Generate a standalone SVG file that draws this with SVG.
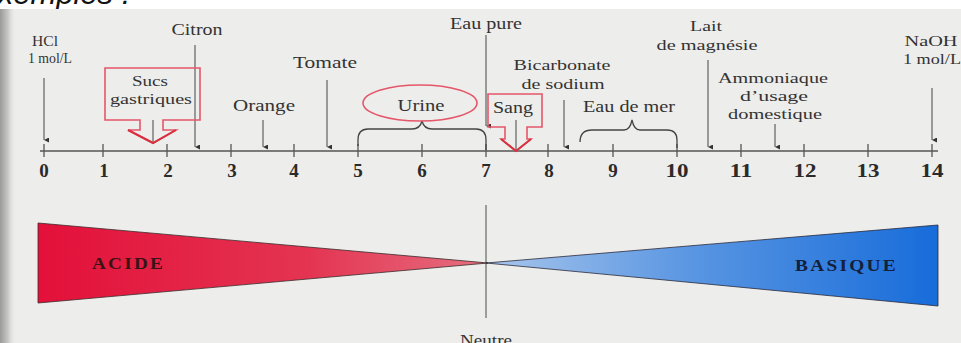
<svg xmlns="http://www.w3.org/2000/svg" width="961" height="343" viewBox="0 0 961 343">
<defs>
<linearGradient id="paperL" x1="0" y1="0" x2="1" y2="0">
<stop offset="0" stop-color="#9a9a98"/>
<stop offset="0.5" stop-color="#c8c8c6"/>
<stop offset="1" stop-color="#ececea" stop-opacity="0"/>
</linearGradient>
<linearGradient id="red" x1="0" y1="0" x2="1" y2="0">
<stop offset="0" stop-color="#e3103a"/>
<stop offset="0.6" stop-color="#e43452"/>
<stop offset="1" stop-color="#e57080"/>
</linearGradient>
<linearGradient id="blue" x1="0" y1="0" x2="1" y2="0">
<stop offset="0" stop-color="#a8c6ec"/>
<stop offset="0.45" stop-color="#5a96e2"/>
<stop offset="1" stop-color="#176cda"/>
</linearGradient>
<marker id="ah" viewBox="0 0 8 8" refX="4" refY="8" markerWidth="5" markerHeight="6" orient="auto-start-reverse" markerUnits="userSpaceOnUse">
<path d="M0,0 L4,8 L8,0 Z" fill="#333"/>
</marker>
<style>
.t{font-family:"Liberation Serif","Times New Roman",serif;font-size:17px;fill:#333;text-anchor:middle}
.m{font-family:"Liberation Serif","Times New Roman",serif;font-size:15.5px;fill:#333;text-anchor:middle}
.s{font-family:"Liberation Serif","Times New Roman",serif;font-size:14px;fill:#333;text-anchor:middle}
.n{font-family:"Liberation Serif","Times New Roman",serif;font-size:19px;font-weight:bold;fill:#2a2a2a;text-anchor:middle}
.ar{stroke:#444;stroke-width:1;fill:none}
.tk{stroke:#555;stroke-width:1.3}
.rb{fill:none;stroke:#e5566a;stroke-width:1.6}
.br{fill:none;stroke:#444;stroke-width:1.3}
.big{font-family:"Liberation Serif","Times New Roman",serif;font-size:17px;font-weight:bold;letter-spacing:2px}
</style>
</defs>
<rect x="0" y="0" width="961" height="343" fill="#ffffff"/>
<text x="-23" y="4" font-family="Liberation Sans, Arial, sans-serif" font-size="31" font-style="italic" fill="#111">Exemples :</text>
<rect x="0" y="9" width="961" height="334" fill="#ededeb"/>
<rect x="0" y="9" width="16" height="334" fill="url(#paperL)"/>

<g id="axis">
<line x1="40" y1="151" x2="938" y2="151" stroke="#555" stroke-width="1.5"/>
<line class="tk" x1="44" y1="144" x2="44" y2="157"/>
<line class="tk" x1="103" y1="144" x2="103" y2="157"/>
<line class="tk" x1="167" y1="144" x2="167" y2="157"/>
<line class="tk" x1="231" y1="144" x2="231" y2="157"/>
<line class="tk" x1="294" y1="144" x2="294" y2="157"/>
<line class="tk" x1="358" y1="144" x2="358" y2="157"/>
<line class="tk" x1="422" y1="144" x2="422" y2="157"/>
<line class="tk" x1="486" y1="144" x2="486" y2="157"/>
<line class="tk" x1="548" y1="144" x2="548" y2="157"/>
<line class="tk" x1="613" y1="144" x2="613" y2="157"/>
<line class="tk" x1="677" y1="144" x2="677" y2="157"/>
<line class="tk" x1="741" y1="144" x2="741" y2="157"/>
<line class="tk" x1="804" y1="144" x2="804" y2="157"/>
<line class="tk" x1="868" y1="144" x2="868" y2="157"/>
<line class="tk" x1="932" y1="144" x2="932" y2="157"/>
<text class="n" x="44" y="177">0</text>
<text class="n" x="104" y="177">1</text>
<text class="n" x="168" y="177">2</text>
<text class="n" x="232" y="177">3</text>
<text class="n" x="294" y="177">4</text>
<text class="n" x="358" y="177">5</text>
<text class="n" x="422" y="177">6</text>
<text class="n" x="486" y="177">7</text>
<text class="n" x="549" y="177">8</text>
<text class="n" x="613" y="177">9</text>
<text class="n" x="677" y="177" textLength="23" lengthAdjust="spacingAndGlyphs">10</text>
<text class="n" x="741" y="177" textLength="23" lengthAdjust="spacingAndGlyphs">11</text>
<text class="n" x="805" y="177" textLength="23" lengthAdjust="spacingAndGlyphs">12</text>
<text class="n" x="868" y="177" textLength="23" lengthAdjust="spacingAndGlyphs">13</text>
<text class="n" x="932" y="177" textLength="23" lengthAdjust="spacingAndGlyphs">14</text>
</g>

<g id="connectors">
<line class="ar" x1="44" y1="78" x2="44" y2="140" marker-end="url(#ah)"/>
<line class="ar" x1="195" y1="45" x2="195" y2="147" marker-end="url(#ah)"/>
<line class="ar" x1="263" y1="120" x2="263" y2="147" marker-end="url(#ah)"/>
<line class="ar" x1="327" y1="80" x2="327" y2="147" marker-end="url(#ah)"/>
<line class="ar" x1="486" y1="35" x2="486" y2="126" marker-end="url(#ah)"/>
<line class="ar" x1="564" y1="100" x2="564" y2="147" marker-end="url(#ah)"/>
<line class="ar" x1="708" y1="60" x2="708" y2="147" marker-end="url(#ah)"/>
<line class="ar" x1="775" y1="124" x2="775" y2="147" marker-end="url(#ah)"/>
<line class="ar" x1="932" y1="88" x2="932" y2="140" marker-end="url(#ah)"/>
<line class="ar" x1="153" y1="120" x2="153" y2="143"/>
<line class="ar" x1="516" y1="120" x2="516" y2="150"/>
<path class="br" d="M358,146 L358,140 Q358,129 368,129 L412,129 Q420,129 422,121 Q424,129 432,129 L476,129 Q486,129 486,140 L486,150"/>
<path class="br" d="M580,142 Q580,130 592,130 L624,130 Q630,130 632,120 Q634,130 640,130 L667,130 Q677,130 677,140 L677,148"/>
<line x1="486" y1="205" x2="486" y2="318" stroke="#666" stroke-width="1.2"/>
</g>

<g id="hcl">
<text class="s" x="45" y="46" textLength="26" lengthAdjust="spacingAndGlyphs">HCl</text>
<text class="s" x="50" y="63" textLength="44" lengthAdjust="spacingAndGlyphs">1 mol/L</text>
</g>
<g id="citron"><text class="t" x="197" y="35" textLength="51" lengthAdjust="spacingAndGlyphs">Citron</text></g>
<g id="sucs">
<path class="rb" d="M105,68 H200 V120 H163 V130 H176 L153,143 L128,130 H140 V120 H105 Z"/>
<path d="M176,130 L153,143 L128,130" fill="none" stroke="#d8303f" stroke-width="2"/>
<text class="m" x="150" y="86" textLength="36" lengthAdjust="spacingAndGlyphs">Sucs</text>
<text class="m" x="151" y="104" textLength="82" lengthAdjust="spacingAndGlyphs">gastriques</text>
</g>
<g id="orange"><text class="t" x="264" y="111" textLength="62" lengthAdjust="spacingAndGlyphs">Orange</text></g>
<g id="tomate"><text class="t" x="325" y="68" textLength="64" lengthAdjust="spacingAndGlyphs">Tomate</text></g>
<g id="eaupure"><text class="t" x="486" y="29" textLength="72" lengthAdjust="spacingAndGlyphs">Eau pure</text></g>
<g id="urine">
<ellipse class="rb" cx="420" cy="103" rx="57" ry="18"/>
<text class="t" x="421" y="111" textLength="47" lengthAdjust="spacingAndGlyphs">Urine</text>
</g>
<g id="sang">
<path class="rb" d="M488,94 H542 V127 H527 V139 H531 L516,151 L501,139 H505 V127 H488 Z"/>
<path d="M531,139 L516,151 L501,139" fill="none" stroke="#d8303f" stroke-width="2"/>
<text class="t" x="513" y="113" textLength="40" lengthAdjust="spacingAndGlyphs">Sang</text>
</g>
<g id="bicarbonate">
<text class="m" x="562" y="70" textLength="97" lengthAdjust="spacingAndGlyphs">Bicarbonate</text>
<text class="m" x="563" y="89" textLength="83" lengthAdjust="spacingAndGlyphs">de sodium</text>
</g>
<g id="eaudemer"><text class="t" x="629" y="112" textLength="92" lengthAdjust="spacingAndGlyphs">Eau de mer</text></g>
<g id="lait">
<text class="m" x="706" y="31" textLength="32" lengthAdjust="spacingAndGlyphs">Lait</text>
<text class="m" x="707" y="50" textLength="101" lengthAdjust="spacingAndGlyphs">de magnésie</text>
</g>
<g id="ammoniaque">
<text class="m" x="773" y="83" textLength="110" lengthAdjust="spacingAndGlyphs">Ammoniaque</text>
<text class="m" x="774" y="101" textLength="68" lengthAdjust="spacingAndGlyphs">d’usage</text>
<text class="m" x="775" y="119" textLength="94" lengthAdjust="spacingAndGlyphs">domestique</text>
</g>
<g id="naoh">
<text class="m" x="931" y="46" textLength="53" lengthAdjust="spacingAndGlyphs">NaOH</text>
<text class="m" x="932" y="64" textLength="58" lengthAdjust="spacingAndGlyphs">1 mol/L</text>
</g>

<g id="acide">
<polygon points="38,223 38,303 488,263" fill="url(#red)" stroke="#3a2a2a" stroke-width="0.8"/>
<text class="big" x="92" y="269" fill="#3a1414" textLength="73" lengthAdjust="spacingAndGlyphs">ACIDE</text>
</g>
<g id="basique">
<polygon points="486,263 938,225 938,306" fill="url(#blue)" stroke="#2a2a3a" stroke-width="0.8"/>
<text class="big" x="795" y="271" fill="#14203a" textLength="103" lengthAdjust="spacingAndGlyphs">BASIQUE</text>
</g>
<g id="neutre"><text class="t" x="486" y="346" textLength="52" lengthAdjust="spacingAndGlyphs">Neutre</text></g>
</svg>
